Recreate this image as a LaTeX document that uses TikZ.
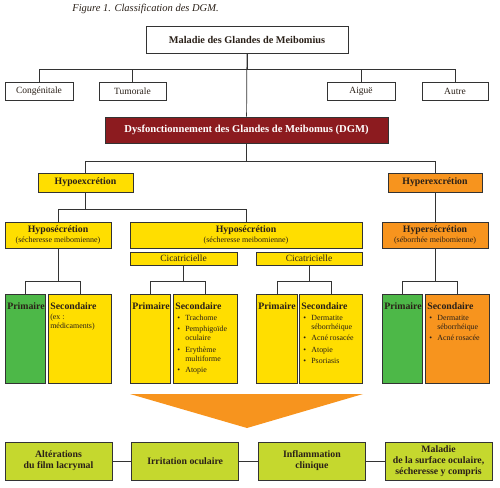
\documentclass[tikz,border=0pt]{standalone}
\usepackage{fontspec}
\setmainfont{Liberation Serif}
\usetikzlibrary{positioning}
\definecolor{dgmred}{HTML}{8C1B1F}
\definecolor{dgmyellow}{HTML}{FFDE00}
\definecolor{dgmorange}{HTML}{F7941E}
\definecolor{dgmgreen}{HTML}{4DB848}
\definecolor{dgmlime}{HTML}{C5D82E}
\definecolor{inkc}{HTML}{2A2018}
\newcommand{\hd}{\fontsize{9.8}{11}\selectfont\bfseries}
\newcommand{\sm}{\fontsize{7.9}{9}\selectfont\mdseries}
\newcommand{\pile}[2]{\parbox[c][81pt][t]{#1}{\raggedright\vspace*{4pt}#2}}
\newcommand{\itm}[1]{\par\hangindent=10pt\hangafter=1\noindent\makebox[10pt][l]{\hspace{2pt}\textbullet}#1\par\vspace{2.5pt}}
\tikzset{
box/.style={draw=black!80,line width=0.7pt,text=inkc,inner sep=1pt,align=center},
plain/.style={box,fill=white,font=\fontsize{9.5}{11}\selectfont,minimum height=18pt},
head/.style={box,font=\hd,minimum height=19pt},
subhead/.style={box,font=\hd,minimum height=26pt},
cica/.style={box,fill=dgmyellow,font=\fontsize{9.5}{11}\selectfont,minimum height=13pt,minimum width=106pt},
pile/.style={box,anchor=north west,inner xsep=2pt,inner ysep=4pt},
effect/.style={box,fill=dgmlime,font=\hd,minimum height=38pt,minimum width=107pt},
link/.style={draw=black!80,line width=0.7pt}
}
\begin{document}
\begin{tikzpicture}[x=1pt,y=-1pt]
\useasboundingbox (0,0) rectangle (500,487);
\node[font=\fontsize{10.5}{12}\selectfont\itshape,text=inkc] (title) at (145.5,9) {Figure 1. Classification des DGM.};
% top level
\node[box,fill=white,line width=0.9pt,font=\fontsize{10.3}{12}\selectfont\bfseries,minimum width=202pt,minimum height=27pt] (maladie) at (247,39.5) {Maladie des Glandes de Meibomius};
\node[plain,minimum width=68pt] (congen) at (39,91) {Congénitale};
\node[plain,minimum width=67pt] (tumor) at (132.5,91) {Tumorale};
\node[plain,minimum width=68pt] (aigue) at (361,91) {Aiguë};
\node[plain,minimum width=66pt] (autre) at (455,91) {Autre};
\node[box,fill=dgmred,text=white,font=\fontsize{10.6}{12}\selectfont\bfseries,minimum width=283pt,minimum height=26pt] (dgm) at (246.5,130) {Dysfonctionnement des Glandes de Meibomus (DGM)};
% excretion
\node[head,fill=dgmyellow,minimum width=95pt] (hypoex) at (85.5,182.5) {Hypoexcrétion};
\node[head,fill=dgmorange,minimum width=94pt] (hyperex) at (435,182.5) {Hyperexcrétion};
\node[subhead,fill=dgmyellow,minimum width=106pt] (hyposA) at (58,235) {Hyposécrétion\\[-1pt]{\fontsize{8}{9}\selectfont\mdseries(sécheresse meibomienne)}};
\node[subhead,fill=dgmyellow,minimum width=232pt] (hyposB) at (246,235) {Hyposécrétion\\[-1pt]{\fontsize{8}{9}\selectfont\mdseries(sécheresse meibomienne)}};
\node[subhead,fill=dgmorange,minimum width=106pt] (hypers) at (435,235) {Hypersécrétion\\[-1pt]{\fontsize{8}{9}\selectfont\mdseries(séborrhée meibomienne)}};
\node[cica,minimum width=107pt] (cicaA) at (183.5,258.5) {Cicatricielle};
\node[cica] (cicaB) at (309,258.5) {Cicatricielle};
% columns
\node[pile,fill=dgmgreen] (primA) at (5,294) {\pile{36pt}{\hd Primaire}};
\node[pile,fill=dgmyellow] (secA) at (48,294) {\pile{59pt}{\hd Secondaire\par\vspace{1pt}\sm (ex~:\newline médicaments)}};
\node[pile,fill=dgmyellow] (primB) at (130,294) {\pile{36pt}{\hd Primaire}};
\node[pile,fill=dgmyellow] (secB) at (173,294) {\pile{60pt}{\hd Secondaire\par\vspace{2pt}\sm
  \itm{Trachome}\itm{Pemphigoïde\newline oculaire}\itm{Erythème\newline multiforme}\itm{Atopie}}};
\node[pile,fill=dgmyellow] (primC) at (256,294) {\pile{37pt}{\hd Primaire}};
\node[pile,fill=dgmyellow] (secC) at (299,294) {\pile{59pt}{\hd Secondaire\par\vspace{2pt}\sm
  \itm{Dermatite\newline séborrhéique}\itm{Acné rosacée}\itm{Atopie}\itm{Psoriasis}}};
\node[pile,fill=dgmgreen] (primD) at (382,294) {\pile{36pt}{\hd Primaire}};
\node[pile,fill=dgmorange] (secD) at (425,294) {\pile{60pt}{\hd Secondaire\par\vspace{2pt}\sm
  \itm{Dermatite\newline séborrhéique}\itm{Acné rosacée}}};
% consequences
\fill[dgmorange] (130,394) -- (363,394) -- (247,428) -- cycle;
\node[effect] (altfilm) at (58.5,461) {Altérations\\du film lacrymal};
\node[effect,right=19pt of altfilm] (irrit) {Irritation oculaire};
\node[effect,right=19pt of irrit] (inflam) {Inflammation\\clinique};
\node[effect,right=19pt of inflam] (surface) {Maladie\\de la surface oculaire,\\sécheresse y compris};
% connectors
\draw[link] (maladie) -- (dgm);
\foreach \n in {congen,tumor,aigue,autre}
  \draw[link] (maladie.south) -- ++(0,16) -| (\n.north);
\foreach \n in {hypoex,hyperex}
  \draw[link] (dgm.south) -- ++(0,18) -| (\n.north);
\draw[link] (hyperex) -- (hypers);
\foreach \n in {hyposA,hyposB}
  \draw[link] (hypoex.south) -- ++(0,17) -| (\n.north);
\foreach \p/\a/\b/\d in {hyposA/primA/secA/33,cicaA/primB/secB/16,cicaB/primC/secC/16,hypers/primD/secD/33}{
  \draw[link] (\p.south) -- ++(0,\d) -| (\a.north);
  \draw[link] (\p.south) -- ++(0,\d) -| (\b.north);
}
\draw[link] (altfilm) -- (irrit);
\draw[link] (irrit) -- (inflam);
\draw[link] (inflam) -- (surface);
\end{tikzpicture}
\end{document}
